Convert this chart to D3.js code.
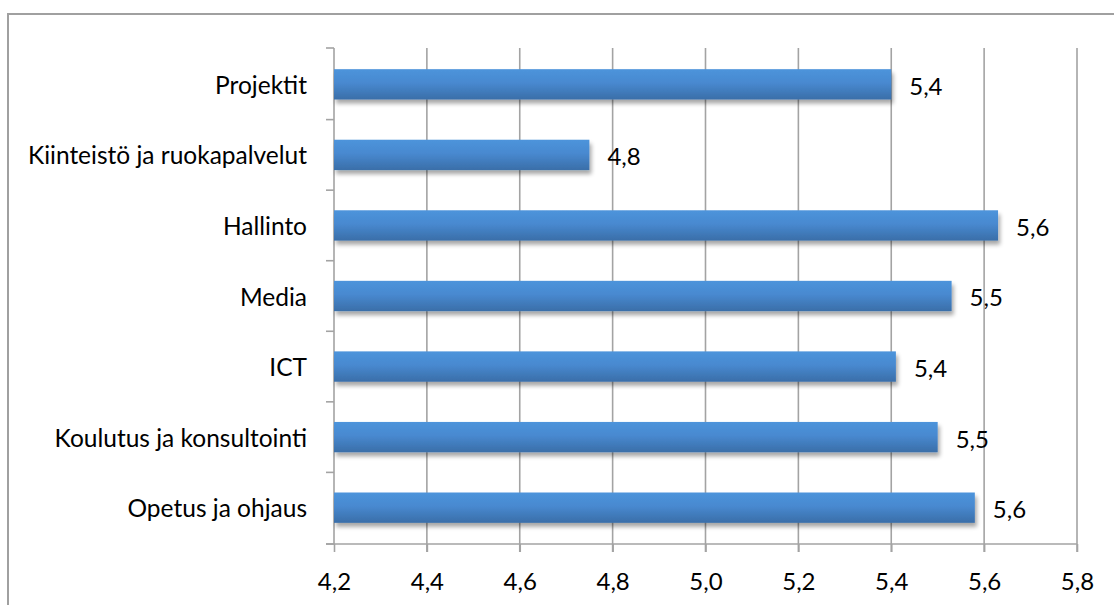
<!DOCTYPE html>
<html>
<head>
<meta charset="utf-8">
<script src="https://cdn.jsdelivr.net/npm/d3@7"></script>
<style>
  html, body { margin: 0; padding: 0; background: #fff; }
  svg text { font-family: Lato, "Open Sans", sans-serif; fill: #000; }
</style>
</head>
<body>
<svg id="chart" width="1114" height="605"></svg>
<script>
// Categories, top to bottom
const categories = [
  "Projektit",
  "Kiinteistö ja ruokapalvelut",
  "Hallinto",
  "Media",
  "ICT",
  "Koulutus ja konsultointi",
  "Opetus ja ohjaus"
];
// Mean score per category
const values = [5.40, 4.75, 5.63, 5.53, 5.41, 5.50, 5.58];
// X axis tick values
const xTicks = [4.2, 4.4, 4.6, 4.8, 5.0, 5.2, 5.4, 5.6, 5.8];

const svg = d3.select("#chart");
const W = 1114, H = 605;
const margin = { left: 334, right: W - 1077, top: 48, bottom: H - 544 };
const labelSize = 24.5;
const fontSize = 24;
const gridColor = "#a3a3a3";
const fmt = v => d3.format(".1f")(v).replace(".", ",");

// outer frame (continues past the right and bottom edges)
svg.append("rect")
  .attr("x", 8).attr("y", 14)
  .attr("width", W + 20).attr("height", H + 20)
  .attr("fill", "none").attr("stroke", "#a0a0a0").attr("stroke-width", 2);

const defs = svg.append("defs");
const grad = defs.append("linearGradient")
  .attr("id", "barFill").attr("x1", 0).attr("y1", 0).attr("x2", 0).attr("y2", 1);
grad.append("stop").attr("offset", "0%").attr("stop-color", "#4d94db");
grad.append("stop").attr("offset", "45%").attr("stop-color", "#4889d0");
grad.append("stop").attr("offset", "100%").attr("stop-color", "#3a6ea8");

const shadow = defs.append("filter").attr("id", "barShadow")
  .attr("x", "-5%").attr("y", "-30%").attr("width", "115%").attr("height", "180%");
shadow.append("feGaussianBlur").attr("in", "SourceAlpha").attr("stdDeviation", 2.2).attr("result", "b");
shadow.append("feOffset").attr("in", "b").attr("dx", 2).attr("dy", 4).attr("result", "o");
shadow.append("feComponentTransfer").attr("in", "o").attr("result", "s")
  .append("feFuncA").attr("type", "linear").attr("slope", 0.35);
const merge = shadow.append("feMerge");
merge.append("feMergeNode").attr("in", "s");
merge.append("feMergeNode").attr("in", "SourceGraphic");

const x = d3.scaleLinear().domain([4.2, 5.8]).range([margin.left, W - margin.right]);
const y = d3.scaleBand().domain(categories)
  .range([margin.top, H - margin.bottom])
  .paddingInner(0.57).paddingOuter(0.30);

const plotTop = margin.top, plotBottom = H - margin.bottom;

// vertical gridlines
svg.append("g").selectAll("line").data(xTicks.slice(1)).join("line")
  .attr("x1", d => x(d)).attr("x2", d => x(d))
  .attr("y1", plotTop).attr("y2", plotBottom + 8)
  .attr("stroke", gridColor).attr("stroke-width", 1.6);

// bottom axis
const xAxis = svg.append("g")
  .attr("transform", `translate(0,${plotBottom})`)
  .call(d3.axisBottom(x).tickValues(xTicks).tickFormat(fmt).tickSize(8).tickSizeOuter(0).tickPadding(21));
xAxis.select(".domain").remove();
xAxis.selectAll(".tick line").attr("stroke", gridColor).attr("stroke-width", 1.6);
xAxis.selectAll(".tick text").attr("font-size", fontSize).attr("font-family", "Lato, sans-serif").attr("fill", "#000");
xAxis.append("line")
  .attr("x1", x(4.2) - 8).attr("x2", x(5.8))
  .attr("y1", 0).attr("y2", 0)
  .attr("stroke", gridColor).attr("stroke-width", 1.6);

// left axis: ticks at band boundaries
const bounds = categories.map(c => y(c) - y.step() * y.paddingInner() / 2).concat([plotBottom]);
bounds[0] = plotTop;
const yAxis = svg.append("g");
yAxis.append("line")
  .attr("x1", x(4.2)).attr("x2", x(4.2))
  .attr("y1", plotTop).attr("y2", plotBottom)
  .attr("stroke", gridColor).attr("stroke-width", 1.6);
yAxis.selectAll("line.tk").data(bounds).join("line").attr("class", "tk")
  .attr("x1", x(4.2) - 8).attr("x2", x(4.2))
  .attr("y1", d => d).attr("y2", d => d)
  .attr("stroke", gridColor).attr("stroke-width", 1.6);

// category labels
svg.append("g").selectAll("text").data(categories).join("text")
  .attr("x", x(4.2) - 27)
  .attr("y", d => y(d) + y.bandwidth() / 2 + 1)
  .attr("dy", "0.35em")
  .attr("text-anchor", "end")
  .attr("font-size", labelSize)
  .text(d => d);

// bars
const data = categories.map((c, i) => ({ c, v: values[i] }));
svg.append("g").selectAll("rect").data(data).join("rect")
  .attr("x", x(4.2))
  .attr("y", d => y(d.c))
  .attr("width", d => x(d.v) - x(4.2))
  .attr("height", y.bandwidth())
  .attr("fill", "url(#barFill)")
  .attr("filter", "url(#barShadow)");

// value labels
svg.append("g").selectAll("text").data(data).join("text")
  .attr("x", d => x(d.v) + 18)
  .attr("y", d => y(d.c) + y.bandwidth() / 2 + 2)
  .attr("dy", "0.35em")
  .attr("font-size", fontSize)
  .text(d => fmt(d.v));
</script>
</body>
</html>
